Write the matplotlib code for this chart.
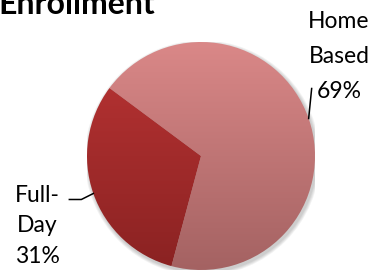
import numpy as np
import matplotlib
matplotlib.use("Agg")
import matplotlib.pyplot as plt
from matplotlib.patches import Wedge, Circle
from matplotlib.colors import LinearSegmentedColormap

title = "Enrollment"
categories = ["Home\nBased", "Full-\nDay"]
values = [69, 31]
pct_labels = ["69%", "31%"]

W, H = 373, 272
fig = plt.figure(figsize=(W / 100, H / 100), dpi=100)
cx, cy, R = 201, 156, 114  # pixel layout of pie
ax = fig.add_axes([(cx - R) / W, (H - cy - R) / H, 2 * R / W, 2 * R / H])
ax.set_xlim(-1, 1)
ax.set_ylim(-1, 1)
ax.axis("off")

# soft shadow
for i, a in enumerate([0.05, 0.05, 0.05, 0.05]):
    ax.add_patch(Circle((0.012, -0.018), 1.0 + 0.008 * (4 - i), color="#000000",
                        alpha=a, lw=0, zorder=0))

gradients = [("#DA8888", "#A46262"), ("#BA3434", "#8A2222")]
startangle = 143.4
total = sum(values)
theta = startangle
wedges = []
for v, (ctop, cbot) in zip(values, gradients):
    span = 360.0 * v / total
    t2 = theta
    t1 = theta - span
    w = Wedge((0, 0), 1.0, t1, t2, lw=0, facecolor="none")
    ax.add_patch(w)
    cmap = LinearSegmentedColormap.from_list("g", [cbot, ctop])
    grad = np.linspace(0, 1, 256).reshape(-1, 1)
    im = ax.imshow(grad, cmap=cmap, extent=[-1, 1, -1, 1], origin="lower",
                   aspect="auto", zorder=1, interpolation="bilinear")
    im.set_clip_path(w)
    wedges.append((t1, t2))
    theta = t1
ax.set_xlim(-1, 1)
ax.set_ylim(-1, 1)

def px(xd, yd):
    return cx + xd * R, cy - yd * R

font = "Lato"
fs = 16.5

# Home Based label (right top)
t1, t2 = wedges[0]
mid = np.deg2rad((t1 + t2) / 2)
ex, ey = np.cos(mid), np.sin(mid)
sx, sy = px(ex, ey)
line = plt.Line2D([sx / W, (sx + 3) / W], [1 - sy / H, 1 - (sy - 30) / H],
                  transform=fig.transFigure, color="black", lw=1.1)
fig.add_artist(line)
lines0 = categories[0].split("\n") + [pct_labels[0]]
for i, s in enumerate(lines0):
    fig.text(339 / W, 1 - (28 + i * 35) / H, s, ha="center", va="baseline",
             fontsize=fs, family=font)

# Full-Day label (left)
t1, t2 = wedges[1]
mid = np.deg2rad((t1 + t2) / 2)
ex, ey = np.cos(mid), np.sin(mid)
sx, sy = px(ex, ey)
xs = [sx, sx - 12, sx - 24]
ys = [sy, sy + 6, sy + 6]
line = plt.Line2D([x / W for x in xs], [1 - y / H for y in ys],
                  transform=fig.transFigure, color="black", lw=1.1)
fig.add_artist(line)
lines1 = categories[1].split("\n") + [pct_labels[1]]
for i, s in enumerate(lines1):
    fig.text(37 / W, 1 - (202 + i * 30.5) / H, s, ha="center", va="baseline",
             fontsize=fs, family=font)

fig.text(-2 / W, 1 - 14 / H, title, ha="left", va="baseline", fontsize=23,
         fontweight="bold", family=font)

fig.savefig("out.png", dpi=100)
